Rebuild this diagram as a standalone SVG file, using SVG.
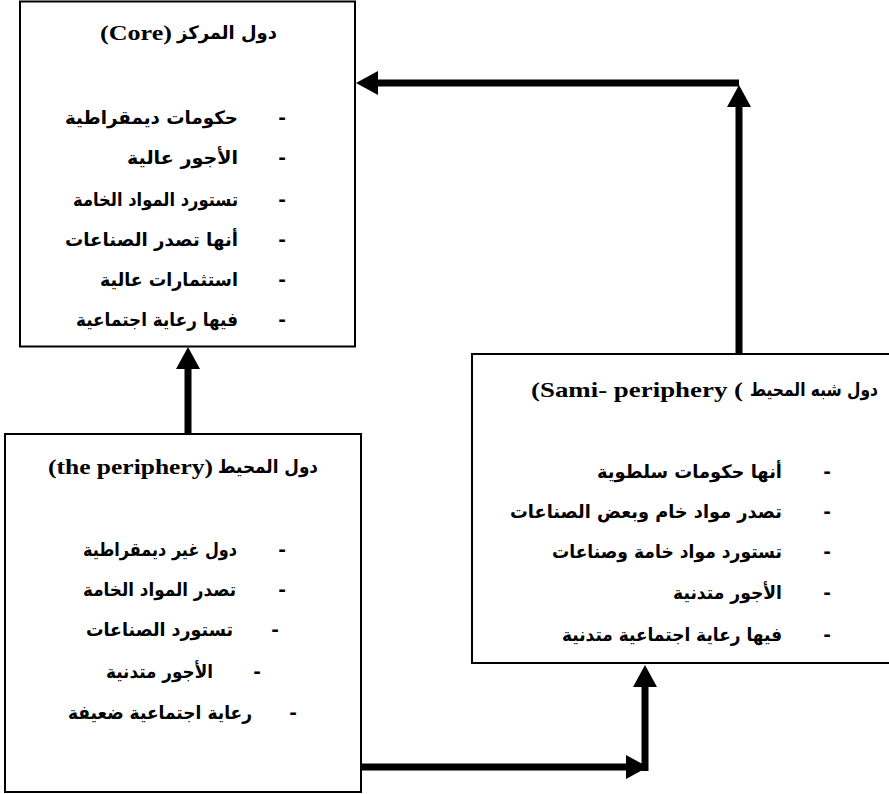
<svg xmlns="http://www.w3.org/2000/svg" width="889" height="794" viewBox="0 0 889 794">
<style>
.box{fill:#fff;stroke:#000;stroke-width:2}
.ar{font-family:"DejaVu Sans",sans-serif;font-weight:bold;font-size:18.5px;fill:#000}
.lat{font-family:"Liberation Serif",serif;font-weight:bold;font-size:21px;fill:#000}
.it{text-anchor:end}
.dash{text-anchor:middle}
.conn{stroke:#000;stroke-width:7;fill:none}
</style>
<defs>
<marker id="ah" markerUnits="userSpaceOnUse" viewBox="0 0 22 24" refX="2" refY="12" markerWidth="22" markerHeight="24" orient="auto">
<path d="M0,0 L22,12 L0,24 Z" fill="#000"/>
</marker>
</defs>

<g id="connectors">
<line class="conn" x1="188" y1="434" x2="188" y2="367" marker-end="url(#ah)"/>
<line class="conn" x1="739" y1="354" x2="739" y2="105" marker-end="url(#ah)"/>
<line class="conn" x1="739" y1="83" x2="376" y2="83" marker-end="url(#ah)"/>
<line class="conn" x1="361" y1="767" x2="628" y2="767" marker-end="url(#ah)"/>
<line class="conn" x1="645" y1="771" x2="645" y2="685" marker-end="url(#ah)"/>
</g>

<g id="core">
<rect class="box" x="20" y="1.5" width="335" height="345"/>
<text class="lat it" x="172" y="40" textLength="72" lengthAdjust="spacingAndGlyphs">(Core)</text>
<text class="ar it" x="277" y="39" textLength="100" lengthAdjust="spacingAndGlyphs">دول المركز</text>
<text class="ar it" x="238" y="124" textLength="173" lengthAdjust="spacingAndGlyphs">حكومات ديمقراطية</text>
<text class="ar it" x="238" y="164" textLength="111" lengthAdjust="spacingAndGlyphs">الأجور عالية</text>
<text class="ar it" x="238" y="206" textLength="165" lengthAdjust="spacingAndGlyphs">تستورد المواد الخامة</text>
<text class="ar it" x="238" y="246" textLength="173" lengthAdjust="spacingAndGlyphs">أنها تصدر الصناعات</text>
<text class="ar it" x="238" y="286" textLength="138" lengthAdjust="spacingAndGlyphs">استثمارات عالية</text>
<text class="ar it" x="238" y="326" textLength="162" lengthAdjust="spacingAndGlyphs">فيها رعاية اجتماعية</text>
<text class="ar dash" x="282" y="124">-</text>
<text class="ar dash" x="282" y="164">-</text>
<text class="ar dash" x="282" y="206">-</text>
<text class="ar dash" x="282" y="246">-</text>
<text class="ar dash" x="282" y="286">-</text>
<text class="ar dash" x="282" y="326">-</text>
</g>

<g id="periphery">
<rect class="box" x="5" y="434" width="356" height="358"/>
<text class="lat it" x="213" y="474" textLength="165" lengthAdjust="spacingAndGlyphs">(the periphery)</text>
<text class="ar it" x="318" y="473" textLength="100" lengthAdjust="spacingAndGlyphs">دول المحيط</text>
<text class="ar it" x="237" y="556" textLength="154" lengthAdjust="spacingAndGlyphs">دول غير ديمقراطية</text>
<text class="ar it" x="236" y="596" textLength="153" lengthAdjust="spacingAndGlyphs">تصدر المواد الخامة</text>
<text class="ar it" x="233" y="636" textLength="147" lengthAdjust="spacingAndGlyphs">تستورد الصناعات</text>
<text class="ar it" x="213" y="678" textLength="107" lengthAdjust="spacingAndGlyphs">الأجور متدنية</text>
<text class="ar it" x="252" y="719" textLength="184" lengthAdjust="spacingAndGlyphs">رعاية اجتماعية ضعيفة</text>
<text class="ar dash" x="282" y="556">-</text>
<text class="ar dash" x="282" y="596">-</text>
<text class="ar dash" x="275" y="636">-</text>
<text class="ar dash" x="257" y="678">-</text>
<text class="ar dash" x="293" y="719">-</text>
</g>

<g id="semi-periphery">
<rect class="box" x="472" y="354" width="420" height="309"/>
<text class="lat it" x="743" y="397" textLength="212" lengthAdjust="spacingAndGlyphs">(Sami- periphery (</text>
<text class="ar it" x="878" y="396" textLength="128" lengthAdjust="spacingAndGlyphs">دول شبه المحيط</text>
<text class="ar it" x="782" y="478" textLength="185" lengthAdjust="spacingAndGlyphs">أنها حكومات سلطوية</text>
<text class="ar it" x="782" y="518" textLength="272" lengthAdjust="spacingAndGlyphs">تصدر مواد خام وبعض الصناعات</text>
<text class="ar it" x="782" y="558" textLength="230" lengthAdjust="spacingAndGlyphs">تستورد مواد خامة وصناعات</text>
<text class="ar it" x="782" y="599" textLength="109" lengthAdjust="spacingAndGlyphs">الأجور متدنية</text>
<text class="ar it" x="782" y="641" textLength="220" lengthAdjust="spacingAndGlyphs">فيها رعاية اجتماعية متدنية</text>
<text class="ar dash" x="827" y="478">-</text>
<text class="ar dash" x="827" y="518">-</text>
<text class="ar dash" x="827" y="558">-</text>
<text class="ar dash" x="827" y="599">-</text>
<text class="ar dash" x="827" y="641">-</text>
</g>
</svg>
